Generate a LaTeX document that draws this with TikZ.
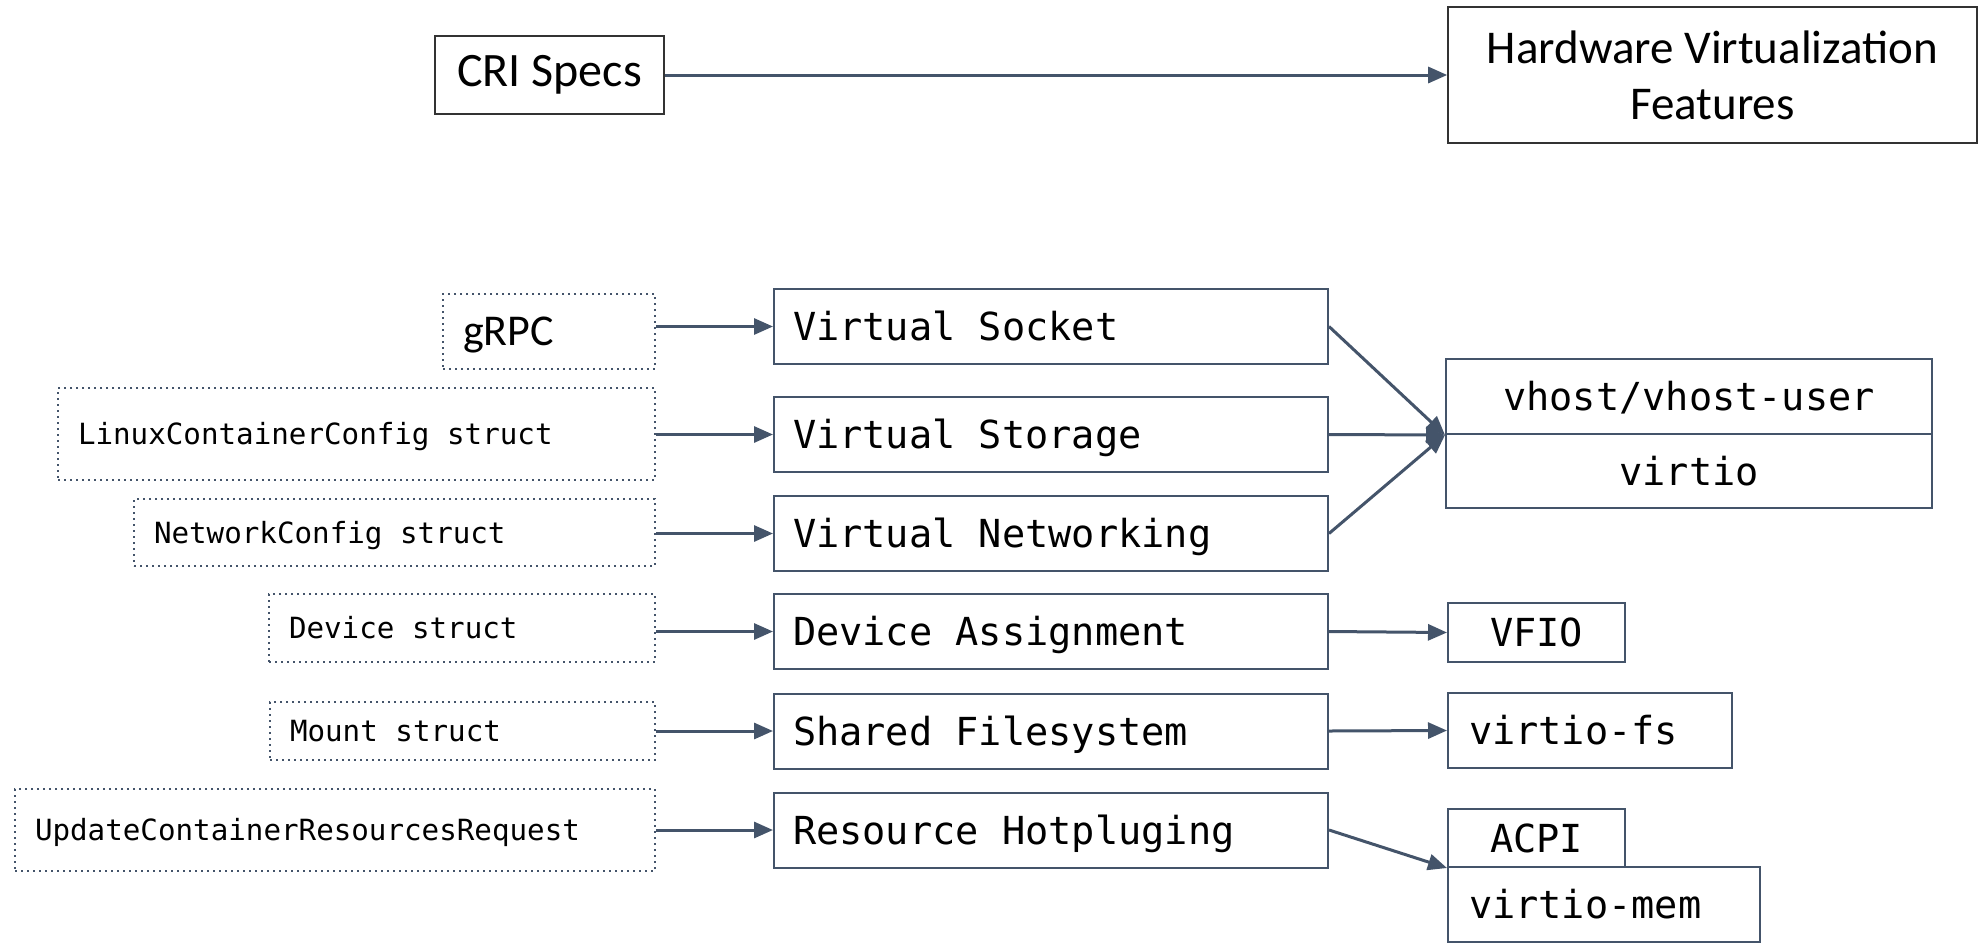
\documentclass[tikz,border=0pt]{standalone}
\usepackage{fontspec}
\setmainfont{Carlito}
\newfontfamily\monof{DejaVu Sans Mono}
\newcommand\monosz[2]{\monof\fontsize{#1}{#2}\selectfont}
\newcommand\msp{\hspace*{0.602em}}
\usetikzlibrary{arrows.meta}
\definecolor{slate}{HTML}{44546A}
\begin{document}
\begin{tikzpicture}[x=0.5pt,y=-0.5pt,
  calbox/.style={draw=black!80, line width=0.8pt, inner sep=0pt, align=center},
  midbox/.style={draw=slate, line width=1pt, inner sep=0pt, inner xsep=9.5pt,
     text width=258pt, align=left, minimum height=37.5pt,
     font=\monosz{19.3pt}{22pt}, text height=14pt, text depth=0pt},
  dotbox/.style={draw=slate, line width=0.9pt, dash pattern=on 0.9pt off 2.1pt,
     inner sep=0pt, inner xsep=10pt, align=left,
     font=\monosz{14.6pt}{17pt}, text height=10.6pt, text depth=0pt},
  rbox/.style={draw=slate, line width=1pt, inner sep=0pt, align=center,
     font=\monosz{19.3pt}{22pt}, text height=14pt, text depth=0pt},
  rlbox/.style={rbox, inner xsep=10.5pt, align=left},
  arr/.style={draw=slate, line width=1.5pt, -{Triangle[length=9.5pt,width=8pt]}}
]
\useasboundingbox (0,0) rectangle (1980,943);

% top row
\node[calbox, minimum width=114.5pt, minimum height=39pt,
      font=\fontsize{24pt}{28pt}\selectfont] (cri) at (549.5,75) {CRI Specs};
\node[calbox, minimum width=264.5pt, minimum height=68pt,
      font=\fontsize{23.5pt}{28pt}\selectfont] (hw) at (1712.5,75) {Hardware Virtualization\\Features};

% left dotted boxes
\node[dotbox, text width=86pt, minimum height=37.5pt,
      font=\fontsize{22pt}{26pt}\selectfont, text height=14.2pt] (grpc) at (549,331.5) {gRPC};
\node[dotbox, text width=278.5pt, minimum height=46pt] (lcc) at (356.5,434) {LinuxContainerConfig\msp struct};
\node[dotbox, text width=240.5pt, minimum height=33.5pt] (nc) at (394.5,532.5) {NetworkConfig\msp struct};
\node[dotbox, text width=173pt, minimum height=34pt] (dev) at (462,628) {Device\msp struct};
\node[dotbox, text width=172.5pt, minimum height=29pt] (mnt) at (462.5,731) {Mount\msp struct};
\node[dotbox, text width=300pt, minimum height=41pt] (upd) at (335,830) {UpdateContainerResourcesRequest};

% middle boxes
\node[midbox] (vs) at (1051,326.5) {Virtual\msp Socket};
\node[midbox] (vst) at (1051,434.5) {Virtual\msp Storage};
\node[midbox] (vn) at (1051,533.5) {Virtual\msp Networking};
\node[midbox] (da) at (1051,631.5) {Device\msp Assignment};
\node[midbox] (sf) at (1051,731) {Shared\msp Filesystem};
\node[midbox] (rh) at (1051,830) {Resource\msp Hotpluging};

% right boxes
\node[rbox, minimum width=243pt, minimum height=37.5pt] (vh) at (1689,396.5) {vhost/vhost-user};
\node[rbox, minimum width=243pt, minimum height=37pt] (vio) at (1689,471) {virtio};
\node[rbox, minimum width=88.5pt, minimum height=29.5pt] (vfio) at (1536.5,632.5) {VFIO};
\node[rlbox, text width=121pt, minimum height=37.5pt] (vfs) at (1590,730.5) {virtio-fs};
\node[rbox, minimum width=88.5pt, minimum height=29pt] (acpi) at (1536.5,838) {ACPI};
\node[rlbox, text width=135pt, minimum height=37.5pt] (vmem) at (1604,904.5) {virtio-mem};

% connectors
\draw[arr] (cri.east) -- (hw.west);
\draw[arr] (grpc.east |- vs.west) -- (vs.west);
\draw[arr] (lcc.east |- vst.west) -- (vst.west);
\draw[arr] (nc.east |- vn.west) -- (vn.west);
\draw[arr] (dev.east |- da.west) -- (da.west);
\draw[arr] (mnt.east |- sf.west) -- (sf.west);
\draw[arr] (upd.east |- rh.west) -- (rh.west);

\draw[arr] (vs.east) -- (vh.south west);
\draw[arr] (vst.east) -- (vh.south west);
\draw[arr] (vn.east) -- (vh.south west);
\draw[arr] (da.east) -- (vfio.west);
\draw[arr] (sf.east) -- (vfs.west);
\draw[arr] (rh.east) -- (acpi.south west);
\end{tikzpicture}
\end{document}
